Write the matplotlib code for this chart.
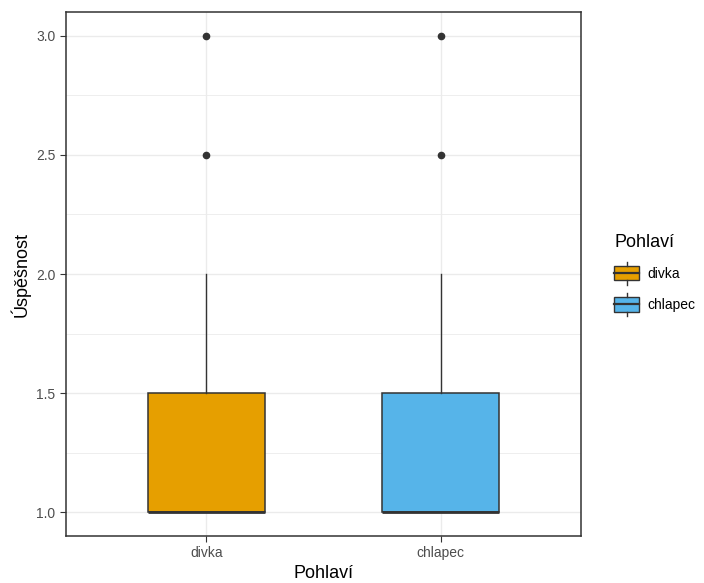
import numpy as np
import matplotlib.pyplot as plt
from matplotlib.patches import Rectangle
from matplotlib.lines import Line2D
from matplotlib.legend_handler import HandlerBase

# box statistics
groups = ["divka", "chlapec"]
colors = ["#E69F00", "#56B4E9"]
q1 = [1.0, 1.0]
med = [1.0, 1.0]
q3 = [1.5, 1.5]
whislo = [1.0, 1.0]
whishi = [2.0, 2.0]
outliers = [[2.5, 3.0], [2.5, 3.0]]

plt.rcParams['font.family'] = ['Liberation Sans', 'DejaVu Sans']

fig = plt.figure(figsize=(7.04, 5.83), dpi=100)
ax = fig.add_axes([0.09375, 0.0806, 0.7315, 0.8988])

stats = []
for i, g in enumerate(groups):
    stats.append(dict(label=g, q1=q1[i], med=med[i], q3=q3[i],
                      whislo=whislo[i], whishi=whishi[i], fliers=outliers[i]))

pos = np.arange(1, len(groups) + 1)
bp = ax.bxp(stats, positions=pos, widths=0.5, patch_artist=True,
            showcaps=False, zorder=3,
            boxprops=dict(edgecolor="#333333", linewidth=1.1),
            medianprops=dict(color="#333333", linewidth=2.0),
            whiskerprops=dict(color="#333333", linewidth=1.0),
            flierprops=dict(marker="o", markerfacecolor="#333333",
                            markeredgecolor="#333333", markersize=4.5))
for patch, c in zip(bp["boxes"], colors):
    patch.set_facecolor(c)

ax.set_xlim(0.4, 2.6)
ax.set_ylim(0.9, 3.1)
ax.set_xticks(pos)
ax.set_xticklabels(groups)
yt = [1.0, 1.5, 2.0, 2.5, 3.0]
ax.set_yticks(yt)
ax.set_yticklabels([f"{v:.1f}" for v in yt])
ax.set_yticks([1.25, 1.75, 2.25, 2.75], minor=True)

ax.grid(True, which="major", color="#EBEBEB", linewidth=1.0, zorder=0)
ax.grid(True, which="minor", axis="y", color="#EBEBEB", linewidth=0.6, zorder=0)
ax.set_axisbelow(True)
ax.tick_params(which="major", colors="#333333", labelcolor="#4D4D4D",
               labelsize=10, length=4)
ax.tick_params(which="minor", length=0)
for s in ax.spines.values():
    s.set_color("#333333")
    s.set_linewidth(1.1)

ax.set_xlabel("Pohlaví", fontsize=13, labelpad=3)
ax.set_ylabel("Úspěšnost", fontsize=13, labelpad=4)


class BoxKey(HandlerBase):
    def create_artists(self, legend, orig, xd, yd, w, h, fontsize, trans):
        x0, y0 = -xd, -yd
        cx = x0 + w / 2
        r = Rectangle((x0, y0 + h * 0.12), w, h * 0.76,
                      facecolor=orig.get_facecolor(), edgecolor="#333333",
                      linewidth=1.0, transform=trans)
        m = Line2D([x0, x0 + w], [y0 + h / 2] * 2, color="#333333",
                   linewidth=1.6, transform=trans)
        t = Line2D([cx, cx], [y0 + h * 0.88, y0 + h * 1.12], color="#333333",
                   linewidth=1.0, transform=trans)
        b = Line2D([cx, cx], [y0 - h * 0.12, y0 + h * 0.12], color="#333333",
                   linewidth=1.0, transform=trans)
        return [r, m, t, b]


handles = [Rectangle((0, 0), 1, 1, facecolor=c) for c in colors]
leg = fig.legend(handles, groups, title="Pohlaví", loc="center left",
                 bbox_to_anchor=(0.855, 0.53), frameon=False,
                 handler_map={Rectangle: BoxKey()}, fontsize=10,
                 title_fontsize=13, handlelength=1.75, handleheight=1.7,
                 labelspacing=0.9, handletextpad=0.6)
leg._legend_box.align = "left"

fig.savefig("out.png", dpi=100)
